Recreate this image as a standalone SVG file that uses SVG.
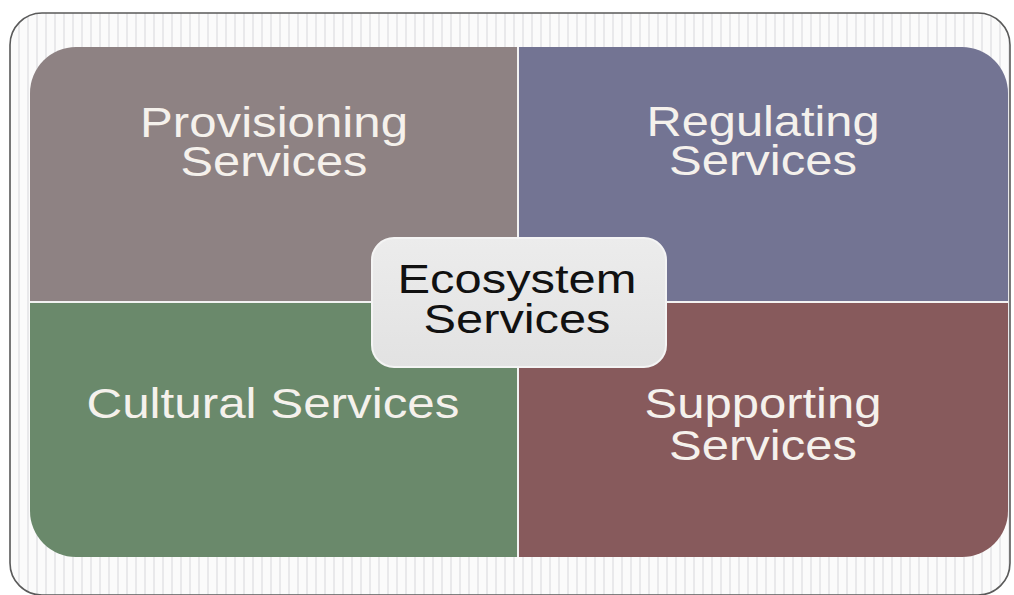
<svg xmlns="http://www.w3.org/2000/svg" width="1014" height="595" viewBox="0 0 1014 595">
<style>
.lbl{font-family:"Liberation Sans",Arial,sans-serif;font-size:42px;fill:#f5f1ec;text-anchor:middle}
.ctr{font-family:"Liberation Sans",Arial,sans-serif;font-size:40px;fill:#111;text-anchor:middle}
</style>
<defs>
<pattern id="stripes" width="9" height="10" patternUnits="userSpaceOnUse">
<rect width="9" height="10" fill="#fbfbfb"/>
<rect x="0" width="2" height="10" fill="#e9e9eb"/>
</pattern>
<linearGradient id="cg" x1="0" y1="0" x2="0" y2="1">
<stop offset="0" stop-color="#ececec"/>
<stop offset="1" stop-color="#e2e2e2"/>
</linearGradient>
<clipPath id="qclip"><rect x="30" y="47" width="978" height="510" rx="46"/></clipPath>
</defs>
<rect width="1014" height="595" fill="#ffffff"/>
<rect x="10" y="13" width="1000" height="582" rx="32" fill="url(#stripes)" stroke="#5a5a5a" stroke-width="1.6"/>
<g clip-path="url(#qclip)">
<g id="provisioning"><rect x="30" y="47" width="488" height="255" fill="#8e8283"/>
<text class="lbl" x="274" y="137" textLength="268" lengthAdjust="spacingAndGlyphs">Provisioning</text>
<text class="lbl" x="274" y="176" textLength="187" lengthAdjust="spacingAndGlyphs">Services</text></g>
<g id="regulating"><rect x="518" y="47" width="490" height="255" fill="#737493"/>
<text class="lbl" x="763" y="136" textLength="233" lengthAdjust="spacingAndGlyphs">Regulating</text>
<text class="lbl" x="763" y="175" textLength="188" lengthAdjust="spacingAndGlyphs">Services</text></g>
<g id="cultural"><rect x="30" y="302" width="488" height="255" fill="#6a896b"/>
<text class="lbl" x="273" y="418" textLength="373" lengthAdjust="spacingAndGlyphs">Cultural Services</text></g>
<g id="supporting"><rect x="518" y="302" width="490" height="255" fill="#875a5c"/>
<text class="lbl" x="763" y="418" textLength="237" lengthAdjust="spacingAndGlyphs">Supporting</text>
<text class="lbl" x="763" y="460" textLength="188" lengthAdjust="spacingAndGlyphs">Services</text></g>
</g>
<g id="connectors">
<line x1="518" y1="47" x2="518" y2="557" stroke="#f2f2f2" stroke-width="2"/>
<line x1="30" y1="302" x2="1008" y2="302" stroke="#f2f2f2" stroke-width="2"/>
</g>
<g id="ecosystem">
<rect x="372" y="238" width="294" height="129" rx="22" fill="url(#cg)" stroke="#f4f4f4" stroke-width="2"/>
<text class="ctr" x="517" y="293" textLength="239" lengthAdjust="spacingAndGlyphs">Ecosystem</text>
<text class="ctr" x="517" y="333" textLength="187" lengthAdjust="spacingAndGlyphs">Services</text>
</g>
</svg>
